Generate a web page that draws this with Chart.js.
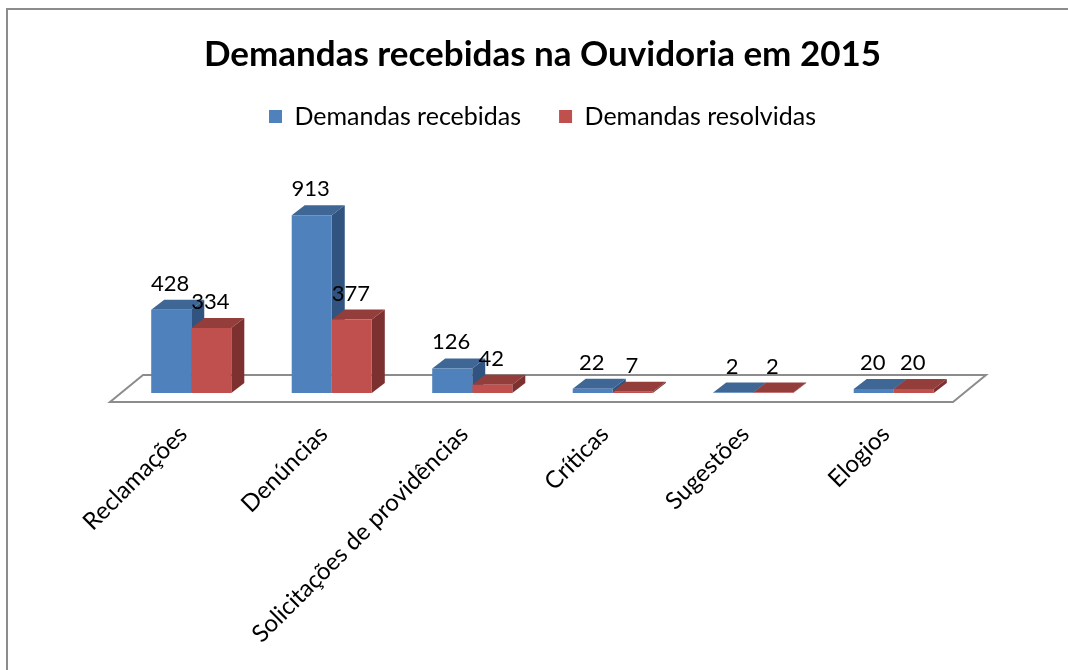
<!DOCTYPE html>
<html>
<head>
<meta charset="utf-8">
<script src="https://cdn.jsdelivr.net/npm/chart.js@4.4.0/dist/chart.umd.min.js"></script>
<style>
  html, body { margin: 0; padding: 0; background: #fff; overflow: hidden; }
  #wrap { position: relative; width: 1068px; height: 670px; }
  #frame { position: absolute; left: 6px; top: 8px; width: 1200px; height: 800px;
           border-left: 2px solid #8c8c8c; border-top: 2px solid #8c8c8c; pointer-events: none; }
</style>
</head>
<body>
<div id="wrap">
  <canvas id="chart" width="1068" height="670"></canvas>
  <div id="frame"></div>
</div>
<script>
const categories = ["Reclamações", "Denúncias", "Solicitações de providências", "Críticas", "Sugestões", "Elogios"];
const recebidas = [428, 913, 126, 22, 2, 20];
const resolvidas = [334, 377, 42, 7, 2, 20];
const seriesNames = ["Demandas recebidas", "Demandas resolvidas"];

const frontColors = ["#4F81BD", "#C0504D"];
const topColors = ["#3F6796", "#943E3C"];
const sideColors = ["#30537F", "#7D3030"];

const FONT = "Lato";
const DX = 13, DY = -10; // bar depth

// floor + top/side faces of the bars (front faces are drawn by Chart.js)
const bars3d = {
  id: "bars3d",
  beforeDatasetsDraw(chart) {
    const { ctx, chartArea: a } = chart;
    ctx.save();
    ctx.strokeStyle = "#8c8c8c";
    ctx.lineWidth = 2;
    ctx.beginPath();
    ctx.moveTo(a.left - 11, a.bottom + 9);
    ctx.lineTo(a.right - 11, a.bottom + 9);
    ctx.lineTo(a.right + 22, a.bottom - 18);
    ctx.lineTo(a.left + 22, a.bottom - 18);
    ctx.closePath();
    ctx.stroke();

    chart.data.datasets.forEach((ds, i) => {
      chart.getDatasetMeta(i).data.forEach(bar => {
        const l = bar.x - bar.width / 2, r = bar.x + bar.width / 2;
        const t = bar.y, b = bar.base;
        ctx.fillStyle = topColors[i];
        ctx.beginPath();
        ctx.moveTo(l, t); ctx.lineTo(r, t);
        ctx.lineTo(r + DX, t + DY); ctx.lineTo(l + DX, t + DY);
        ctx.closePath(); ctx.fill();
        ctx.fillStyle = sideColors[i];
        ctx.beginPath();
        ctx.moveTo(r, t); ctx.lineTo(r + DX, t + DY);
        ctx.lineTo(r + DX, b + DY); ctx.lineTo(r, b);
        ctx.closePath(); ctx.fill();
      });
    });
    ctx.restore();
  },
  afterDatasetsDraw(chart) {
    const ctx = chart.ctx;
    ctx.save();
    ctx.font = "22px " + FONT;
    ctx.fillStyle = "#000";
    ctx.textAlign = "center";
    ctx.textBaseline = "alphabetic";
    chart.data.datasets.forEach((ds, i) => {
      chart.getDatasetMeta(i).data.forEach((bar, j) => {
        ctx.fillText(String(ds.data[j]), bar.x - 1, bar.y + DY - 9);
      });
    });
    ctx.restore();
  }
};

new Chart(document.getElementById("chart"), {
  type: "bar",
  data: {
    labels: categories,
    datasets: [
      { label: seriesNames[0], data: recebidas, backgroundColor: frontColors[0], borderWidth: 0 },
      { label: seriesNames[1], data: resolvidas, backgroundColor: frontColors[1], borderWidth: 0 }
    ]
  },
  options: {
    responsive: false,
    animation: false,
    layout: { padding: { left: 121, right: 104, top: 0, bottom: 0 } },
    datasets: { bar: { categoryPercentage: 0.57, barPercentage: 1.0 } },
    plugins: {
      title: {
        display: true,
        text: "Demandas recebidas na Ouvidoria em 2015",
        color: "#000",
        font: { family: FONT, size: 35, weight: "bold", lineHeight: 1.0 },
        padding: { top: 37, bottom: -6 }
      },
      legend: {
        position: "top",
        labels: {
          color: "#000",
          font: { family: FONT, size: 25 },
          boxWidth: 13, boxHeight: 13,
          padding: 38
        }
      },
      tooltip: { enabled: false }
    },
    scales: {
      x: {
        grid: { display: false, drawTicks: false },
        border: { display: false },
        ticks: {
          color: "#000",
          font: { family: FONT, size: 24 },
          minRotation: 45, maxRotation: 45,
          padding: 27,
          labelOffset: -8,
          autoSkip: false
        },
        afterFit(scale) { scale.height = 277; }
      },
      y: {
        display: false,
        min: 0,
        max: 1305
      }
    }
  },
  plugins: [bars3d]
});
</script>
</body>
</html>
